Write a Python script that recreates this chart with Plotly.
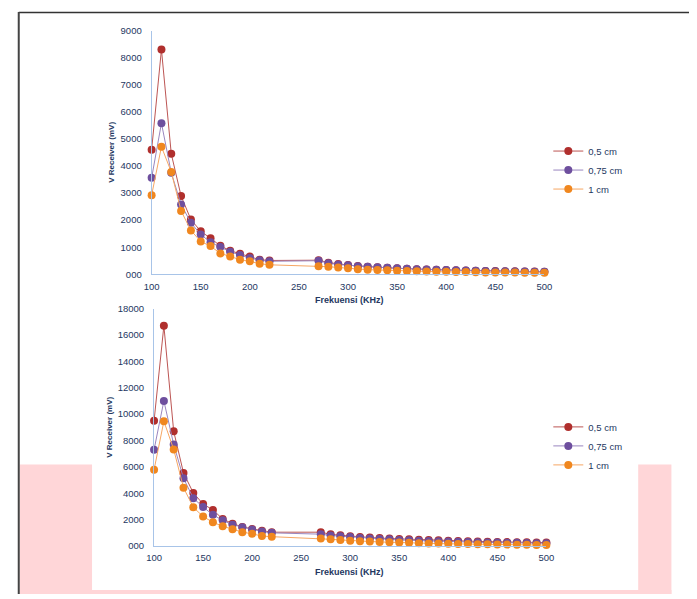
import plotly.graph_objects as go

W, H = 697, 599

freq = [100, 110, 120, 130, 140, 150, 160, 170, 180, 190, 200, 210, 220,
        270, 280, 290, 300, 310, 320, 330, 340, 350, 360, 370, 380, 390,
        400, 410, 420, 430, 440, 450, 460, 470, 480, 490, 500]

series_names = ["0,5 cm", "0,75 cm", "1 cm"]

top_05 = [4600, 8300, 4450, 2890, 2020, 1590, 1330, 1050, 870, 760, 660, 540, 510,
          520, 430, 380, 340, 310, 280, 260, 240, 220, 200, 190, 180, 170, 160,
          150, 140, 130, 125, 120, 115, 110, 105, 100, 95]
top_075 = [3560, 5580, 3750, 2580, 1900, 1470, 1180, 1010, 830, 710, 600, 520, 480,
           500, 410, 360, 330, 300, 280, 260, 240, 220, 200, 185, 175, 165, 155,
           145, 135, 128, 120, 115, 110, 105, 100, 95, 90]
top_1 = [2920, 4710, 3780, 2340, 1620, 1210, 1040, 770, 660, 540, 480, 390, 350,
         300, 280, 250, 220, 190, 170, 160, 145, 130, 120, 110, 100, 95, 90,
         85, 80, 75, 70, 68, 65, 62, 60, 58, 55]

bot_05 = [9500, 16700, 8700, 5540, 4020, 3180, 2730, 2040, 1690, 1440, 1290, 1140, 1040,
          1040, 880, 800, 740, 680, 630, 590, 560, 530, 500, 470, 440, 420, 400,
          380, 360, 340, 320, 300, 290, 280, 270, 260, 250]
bot_075 = [7300, 11000, 7700, 5140, 3620, 2950, 2360, 1940, 1610, 1420, 1240, 1090, 990,
           890, 790, 740, 670, 600, 570, 520, 500, 450, 430, 400, 380, 350, 330,
           310, 290, 270, 260, 250, 240, 230, 220, 210, 200]
bot_1 = [5780, 9460, 7320, 4420, 2930, 2230, 1790, 1490, 1270, 1040, 920, 745, 700,
         570, 500, 450, 400, 350, 330, 300, 280, 250, 230, 210, 190, 175, 160,
         150, 140, 130, 120, 110, 100, 90, 80, 70, 60]

x_ticks = [100, 150, 200, 250, 300, 350, 400, 450, 500]
top_yticks = [0, 1000, 2000, 3000, 4000, 5000, 6000, 7000, 8000, 9000]
top_ytext = ["000", "1000", "2000", "3000", "4000", "5000", "6000", "7000", "8000", "9000"]
bot_yticks = [0, 2000, 4000, 6000, 8000, 10000, 12000, 14000, 16000, 18000]
bot_ytext = ["000", "2000", "4000", "6000", "8000", "10000", "12000", "14000", "16000", "18000"]

y_title = "V Receiver (mV)"
x_title = "Frekuensi (KHz)"

marker_colors = ["#B02F2D", "#6E4F9E", "#F0871F"]
line_colors = ["#BC5553", "#9A86BF", "#F6A663"]

FONT = "Liberation Sans"
NAVY = "#24375F"
AXIS_BLUE = "#A8C4E8"
PINK = "#FFD6D8"


def px_x(p):
    return p / W


def px_y(p):
    return 1 - p / H


fig = go.Figure()

for data, leg, xa, ya in [((top_05, top_075, top_1), "legend", "x", "y"),
                          ((bot_05, bot_075, bot_1), "legend2", "x2", "y2")]:
    for i, vals in enumerate(data):
        fig.add_trace(go.Scatter(
            x=freq, y=vals, name=series_names[i], mode="lines+markers",
            line=dict(color=line_colors[i], width=1),
            marker=dict(color=marker_colors[i], size=8),
            cliponaxis=False, xaxis=xa, yaxis=ya, legend=leg,
        ))

axis_common = dict(showline=True, linecolor=AXIS_BLUE, linewidth=1,
                   showgrid=False, zeroline=False,
                   tickfont=dict(family=FONT, size=9.5, color=NAVY))

fig.update_layout(
    width=W, height=H, autosize=False,
    margin=dict(l=0, r=0, t=0, b=0),
    paper_bgcolor="white", plot_bgcolor="rgba(0,0,0,0)",
    xaxis=dict(domain=[px_x(147), px_x(549)], range=[100, 500], anchor="y",
               tickvals=x_ticks, ticks="outside", ticklen=3,
               tickcolor="rgba(0,0,0,0)", **axis_common),
    yaxis=dict(domain=[px_y(273.3), px_y(25)], range=[0, 9000], anchor="x",
               tickvals=top_yticks, ticktext=top_ytext, ticks="outside",
               ticklen=7, tickcolor="rgba(0,0,0,0)", **axis_common),
    xaxis2=dict(domain=[px_x(149.5), px_x(551)], range=[100, 500], anchor="y2",
                tickvals=x_ticks, ticks="outside", ticklen=3,
                tickcolor="rgba(0,0,0,0)", **axis_common),
    yaxis2=dict(domain=[px_y(550), px_y(308.3)], range=[0, 18000], anchor="x2",
                tickvals=bot_yticks, ticktext=bot_ytext, ticks="outside",
                ticklen=7, tickcolor="rgba(0,0,0,0)", **axis_common),
    legend=dict(x=px_x(553), y=px_y(133), xanchor="left", yanchor="top",
                bgcolor="rgba(0,0,0,0)", itemwidth=30, tracegroupgap=0,
                font=dict(family=FONT, size=9.5, color=NAVY)),
    legend2=dict(x=px_x(553), y=px_y(414), xanchor="left", yanchor="top",
                 bgcolor="rgba(0,0,0,0)", itemwidth=30, tracegroupgap=0,
                 font=dict(family=FONT, size=9.5, color=NAVY)),
    showlegend=True,
)

shapes = [
    # pink background blocks
    dict(type="rect", xref="paper", yref="paper", x0=px_x(12), x1=px_x(86),
         y0=0, y1=px_y(467), fillcolor=PINK, line=dict(width=0), layer="below"),
    dict(type="rect", xref="paper", yref="paper", x0=px_x(645), x1=px_x(679),
         y0=0, y1=px_y(467), fillcolor=PINK, line=dict(width=0), layer="below"),
    dict(type="rect", xref="paper", yref="paper", x0=px_x(12), x1=px_x(679),
         y0=0, y1=px_y(595), fillcolor=PINK, line=dict(width=0), layer="below"),
    # page border
    dict(type="line", xref="paper", yref="paper", x0=px_x(11), x1=1,
         y0=px_y(6.5), y1=px_y(6.5), line=dict(color="#333333", width=1.5), layer="above"),
    dict(type="line", xref="paper", yref="paper", x0=px_x(11), x1=px_x(11),
         y0=0, y1=px_y(6), line=dict(color="#444444", width=2), layer="above"),
    # cover the lower half of the top x-axis title (hidden behind second chart)
    dict(type="rect", xref="paper", yref="paper", x0=px_x(290), x1=px_x(420),
         y0=px_y(307), y1=px_y(300.5), fillcolor="white", line=dict(width=0), layer="above"),
]
fig.update_layout(shapes=shapes)

ann_common = dict(xref="paper", yref="paper", showarrow=False,
                  xanchor="center", yanchor="middle")
annotations = [
    dict(text="<b>" + y_title + "</b>", x=px_x(106), y=px_y(149), textangle=-90,
         font=dict(family=FONT, size=8, color=NAVY), **ann_common),
    dict(text="<b>" + y_title + "</b>", x=px_x(103), y=px_y(429), textangle=-90,
         font=dict(family=FONT, size=8, color=NAVY), **ann_common),
    dict(text="<b>" + x_title + "</b>", x=px_x(350), y=px_y(300),
         font=dict(family=FONT, size=9, color=NAVY), **ann_common),
    dict(text="<b>" + x_title + "</b>", x=px_x(350), y=px_y(577),
         font=dict(family=FONT, size=9, color=NAVY), **ann_common),
]
fig.update_layout(annotations=annotations)

fig.write_html(
    "out.html",
    config={"displayModeBar": False},
    post_script=(
        "var s=document.createElement('style');"
        "s.innerHTML='html,body{margin:0 !important;padding:0 !important;"
        "overflow:hidden !important;} body>div{margin:0 !important;padding:0 !important;}';"
        "document.head.appendChild(s);"
    ),
)
